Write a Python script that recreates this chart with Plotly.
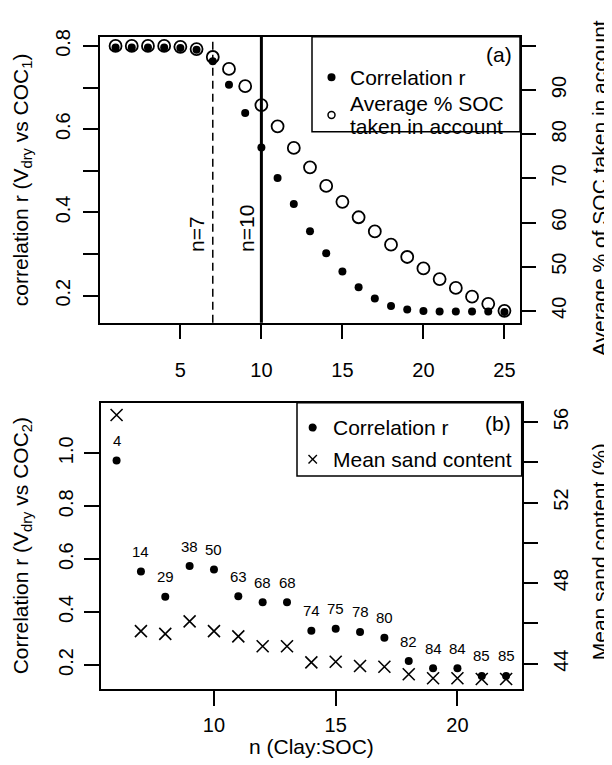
import plotly.graph_objects as go

# ---------------- data ----------------
n_a = list(range(1, 26))
r_a = [0.796, 0.796, 0.796, 0.796, 0.795, 0.791, 0.763, 0.707, 0.639, 0.556,
       0.483, 0.420, 0.355, 0.302, 0.258, 0.220, 0.193, 0.175, 0.167, 0.163,
       0.162, 0.162, 0.162, 0.162, 0.161]
pct_a = [100.0, 100.0, 100.0, 100.0, 99.8, 99.3, 97.5, 94.8, 90.9, 86.6,
         81.8, 76.9, 72.5, 68.3, 64.7, 61.2, 58.0, 55.0, 52.2, 49.6,
         47.2, 45.2, 43.2, 41.6, 40.0]
vlines_a = [7, 10]
vline_labels = ["n=7", "n=10"]

n_b = list(range(6, 23))
r_b = [0.973, 0.554, 0.458, 0.574, 0.561, 0.460, 0.437, 0.437, 0.330, 0.337,
       0.325, 0.303, 0.215, 0.188, 0.188, 0.159, 0.159]
sand_b = [56.35, 45.62, 45.48, 46.10, 45.62, 45.36, 44.87, 44.87, 44.07, 44.10,
          43.89, 43.85, 43.48, 43.28, 43.28, 43.24, 43.24]
labels_b = ["4", "14", "29", "38", "50", "63", "68", "68", "74", "75", "78",
            "80", "82", "84", "84", "85", "85"]

legend_a = ["Correlation r", "Average % SOC", "taken in account"]
legend_b = ["Correlation r", "Mean sand content"]

xticks_a = [5, 10, 15, 20, 25]
yticks_a = [0.2, 0.4, 0.6, 0.8]
yminor_a = [0.3, 0.5, 0.7]
y2ticks_a = [40, 50, 60, 70, 80, 90]
y2minor_a = [100]
xticks_b = [10, 15, 20]
yticks_b = [0.2, 0.4, 0.6, 0.8, 1.0]
y2ticks_b = [44, 48, 52, 56]
y2minor_b = [46, 50, 54]

# ---------------- figure ----------------
# the page body has an 8 px margin; lay the figure out in window pixels
OFF = 8
W, H = 612 - OFF, 765 - OFF
FONT = "Liberation Sans, Arial, sans-serif"
fs_tick = 20
fs_title = 21
BLACK = "black"

def px_x(p):
    return (p - OFF) / W

def px_y(p):
    return 1 - (p - OFF) / H

fig = go.Figure()

# panel (a)
fig.add_trace(go.Scatter(x=n_a, y=pct_a, mode="markers", xaxis="x", yaxis="y2",
                         name="Average % SOC taken in account",
                         marker=dict(symbol="circle-open", size=12, color=BLACK,
                                     line=dict(width=1.8, color=BLACK)),
                         showlegend=False, hoverinfo="skip"))
fig.add_trace(go.Scatter(x=n_a, y=r_a, mode="markers", xaxis="x", yaxis="y",
                         name="Correlation r",
                         marker=dict(symbol="circle", size=8, color=BLACK),
                         showlegend=False, hoverinfo="skip"))

# panel (b)
fig.add_trace(go.Scatter(x=n_b, y=sand_b, mode="markers", xaxis="x2", yaxis="y4",
                         name="Mean sand content",
                         marker=dict(symbol="x-thin", size=12, color=BLACK,
                                     line=dict(width=1.6, color=BLACK)),
                         showlegend=False, hoverinfo="skip"))
fig.add_trace(go.Scatter(x=n_b, y=r_b, mode="markers", xaxis="x2", yaxis="y3",
                         name="Correlation r",
                         marker=dict(symbol="circle", size=8, color=BLACK),
                         showlegend=False, hoverinfo="skip"))

axis_common = dict(showgrid=False, zeroline=False, ticks="outside", ticklen=15,
                   tickwidth=1.5, tickcolor=BLACK, linecolor=BLACK, linewidth=1.5,
                   tickfont=dict(family=FONT, size=fs_tick, color=BLACK))

def minor(vals):
    return dict(tickmode="array", tickvals=vals, ticks="outside", ticklen=15,
                tickwidth=1.5, tickcolor=BLACK, showgrid=False)

fig.update_layout(
    width=W, height=H, margin=dict(l=0, r=0, t=0, b=0),
    paper_bgcolor="white", plot_bgcolor="white", showlegend=False,
    font=dict(family=FONT, size=fs_tick, color=BLACK),
    xaxis=dict(domain=[px_x(100), px_x(520)], range=[0.04, 25.96], anchor="y",
               tickvals=xticks_a, showline=True, mirror=True, ticklabelstandoff=14,
               **axis_common),
    yaxis=dict(domain=[px_y(318), px_y(29)], range=[0.135, 0.822], anchor="x",
               tickvals=yticks_a, tickformat=".1f", tickangle=-90, minor=minor(yminor_a),
               showline=True, mirror=True, ticklabelstandoff=5, **axis_common),
    yaxis2=dict(range=[37.31, 102.08], overlaying="y", side="right", anchor="x",
                tickvals=y2ticks_a, tickangle=-90, minor=minor(y2minor_a),
                showline=False, ticklabelstandoff=6, **axis_common),
    xaxis2=dict(domain=[px_x(101), px_x(521.7)], range=[5.36, 22.64], anchor="y3",
                tickvals=xticks_b, showline=True, mirror=True, ticklabelstandoff=2,
                **axis_common),
    yaxis3=dict(domain=[px_y(688.3), px_y(399)], range=[0.1092, 1.1907], anchor="x2",
                tickvals=yticks_b, tickangle=-90, tickformat=".1f",
                showline=True, mirror=True, ticklabelstandoff=3, **axis_common),
    yaxis4=dict(range=[42.74, 56.95], overlaying="y3", side="right", anchor="x2",
                tickvals=y2ticks_b, tickangle=-90, minor=minor(y2minor_b),
                showline=False, ticklabelstandoff=6, **axis_common),
)

# vertical reference lines in panel (a)
for v, dash, w in zip(vlines_a, ["8px,5px", "solid"], [1.5, 3]):
    fig.add_shape(type="line", xref="x", yref="y domain", x0=v, x1=v, y0=0, y1=1,
                  line=dict(color=BLACK, width=w, dash=dash))
for v, t, xs in zip(vlines_a, vline_labels, [-17, -15]):
    fig.add_annotation(x=v, xref="x", y=0.24, yref="y domain", text=t, showarrow=False,
                       textangle=-90, xshift=xs,
                       font=dict(family=FONT, size=fs_title, color=BLACK))

# point labels in panel (b)
for xv, yv, t in zip(n_b, r_b, labels_b):
    fig.add_annotation(x=xv, y=yv, xref="x2", yref="y3", text=t, showarrow=False,
                       yshift=20, font=dict(family=FONT, size=15, color=BLACK))

# ---------------- legend boxes (drawn like R's legend()) ----------------
def box(x0, x1, y0, y1):
    fig.add_shape(type="rect", xref="paper", yref="paper",
                  x0=px_x(x0), x1=px_x(x1), y0=px_y(y1), y1=px_y(y0),
                  line=dict(color=BLACK, width=1.5), fillcolor="white", layer="above")

def text(t, x, y, anchor="left", size=fs_title):
    fig.add_annotation(x=px_x(x), y=px_y(y), xref="paper", yref="paper", text=t,
                       showarrow=False, xanchor=anchor, yanchor="middle",
                       font=dict(family=FONT, size=size, color=BLACK))

def dot(x, y, r, filled):
    fig.add_shape(type="circle", xref="paper", yref="paper",
                  x0=px_x(x - r), x1=px_x(x + r), y0=px_y(y + r), y1=px_y(y - r),
                  line=dict(color=BLACK, width=1.5),
                  fillcolor=BLACK if filled else "white", layer="above")

def cross(x, y, r):
    for s in (1, -1):
        fig.add_shape(type="line", xref="paper", yref="paper",
                      x0=px_x(x - r), x1=px_x(x + r), y0=px_y(y - s * r), y1=px_y(y + s * r),
                      line=dict(color=BLACK, width=1.4), layer="above")

# (a)
box(312, 520, 29, 125)
text("(a)", 514, 47, anchor="right")
dot(331.5, 70, 3.3, True)
text(legend_a[0], 348, 70)
dot(331.5, 108, 3.5, False)
text(legend_a[1], 348, 96)
text(legend_a[2], 348, 120)

# (b)
box(297, 521.7, 399, 473)
text("(b)", 513, 420, anchor="right")
dot(312.7, 424, 3.3, True)
text(legend_b[0], 331, 424)
cross(312.7, 456, 4.2)
text(legend_b[1], 331, 456)

# axis titles
titles = [
    ("correlation r (V<sub>dry</sub> vs COC<sub>1</sub>)", 22, 174),
    ("Average % of SOC taken in account", 599, 182),
    ("Correlation r (V<sub>dry</sub> vs COC<sub>2</sub>)", 22, 544),
    ("Mean sand content (%)", 599, 550),
]
for t, xp, yp in titles:
    fig.add_annotation(x=px_x(xp), y=px_y(yp), xref="paper", yref="paper", text=t,
                       showarrow=False, textangle=-90, xanchor="center", yanchor="middle",
                       font=dict(family=FONT, size=fs_title, color=BLACK))
text("n (Clay:SOC)", 311, 746, anchor="center")

fig.write_html("out.html")
